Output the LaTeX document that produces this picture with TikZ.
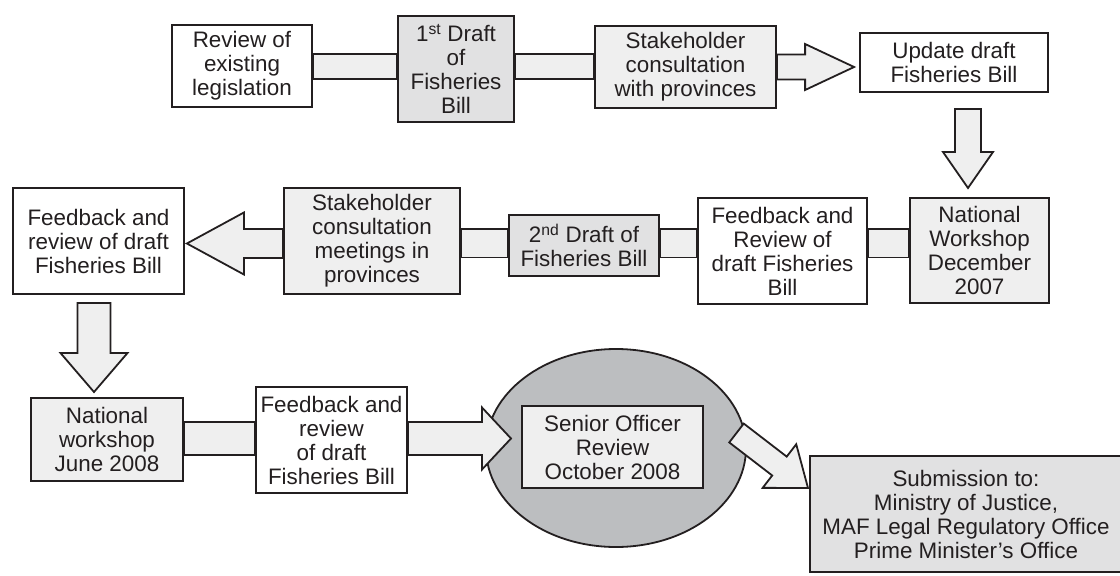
\documentclass[tikz,border=0pt]{standalone}
\usepackage{fontspec}
\setmainfont{Liberation Sans}
\usetikzlibrary{calc,shapes.geometric}

\definecolor{ink}{HTML}{231F20}
\definecolor{pale}{HTML}{EFEFEF}
\definecolor{mid}{HTML}{E1E1E2}
\definecolor{oval}{HTML}{BCBEC0}
\definecolor{shade}{HTML}{959595}

% fat block arrow: start, tip, shaft half-width, head half-width, head length
\newcommand\fatarrow[5]{%
  \coordinate (fa-b) at ($(#2)!#5!(#1)$);
  \filldraw[blockarrow] ($(#1)!#3!90:(#2)$) -- ($(fa-b)!#3!90:(#2)$)
    -- ($(fa-b)!#4!90:(#2)$) -- (#2) -- ($(fa-b)!#4!-90:(#2)$)
    -- ($(fa-b)!#3!-90:(#2)$) -- ($(#1)!#3!-90:(#2)$) -- cycle;}

\begin{document}
\begin{tikzpicture}[x=1pt,y=-1pt,
  line width=1.8pt, line join=miter,
  every node/.style={font=\fontsize{22.4}{24}\selectfont, text=ink},
  stepbox/.style={draw=ink, rectangle, align=center, inner sep=1pt},
  whitebox/.style={stepbox, fill=white},
  palebox/.style={stepbox, fill=pale},
  midbox/.style={stepbox, fill=mid},
  band/.style={draw=ink, fill=pale},
  blockarrow/.style={draw=ink, fill=pale}]
\useasboundingbox (0,0) rectangle (1120,576);

% row levels of the connecting bands
\coordinate (r1t) at (0,54);    \coordinate (r1b) at (0,79);   \coordinate (r1m) at (0,67);
\coordinate (r2t) at (0,229);   \coordinate (r2b) at (0,257.5); \coordinate (r2m) at (0,243.5);
\coordinate (r3t) at (0,422);   \coordinate (r3b) at (0,455);  \coordinate (r3m) at (0,438.5);

% first row
\node[whitebox, minimum width=140, minimum height=82]  (review) at (242,66)    {Review of\\existing\\legislation};
\node[midbox,   minimum width=116, minimum height=106] (draft1) at (456,69)    {1\textsuperscript{st} Draft\\of\\Fisheries\\Bill};
\node[palebox,  minimum width=181, minimum height=82]  (stake1) at (685.5,67)  {Stakeholder\\consultation\\with provinces};
\node[whitebox, minimum width=188, minimum height=59]  (update) at (954,62.5)  {Update draft\\Fisheries Bill};

% second row
\node[whitebox, minimum width=171, minimum height=106] (fb1)    at (98.5,241)  {Feedback and\\review of draft\\Fisheries Bill};
\node[palebox,  minimum width=176, minimum height=106] (stake2) at (372,241)   {Stakeholder\\consultation\\meetings in\\provinces};
\node[midbox,   minimum width=150, minimum height=61]  (draft2) at (584,245.5) {2\textsuperscript{nd} Draft of\\Fisheries Bill};
\node[whitebox, minimum width=169, minimum height=106] (fb2)    at (782.5,251) {Feedback and\\Review of\\draft Fisheries\\Bill};
\node[palebox,  minimum width=139, minimum height=105] (nat1)   at (979.5,250.5) {National\\Workshop\\December\\2007};

% third row
\node[palebox,  minimum width=152, minimum height=83]  (nat2)   at (107,439.5) {National\\workshop\\June 2008};
\node[whitebox, minimum width=151, minimum height=106] (fb3)    at (331.5,440) {Feedback and\\review\\of draft\\Fisheries Bill};
\node[draw=ink, fill=oval, ellipse, minimum width=260, minimum height=198, inner sep=0pt] (oval) at (616,448) {};

% submission box with its shadow
\fill[shade] (814,460) rectangle (1130,576);
\node[midbox, minimum width=312, minimum height=116] (sub) at (966,514)
  {Submission to:\\Ministry of Justice,\\MAF Legal Regulatory Office\\Prime Minister’s Office};

% bands between boxes
\draw[band] (review.east |- r1t) rectangle (draft1.west |- r1b);
\draw[band] (draft1.east |- r1t) rectangle (stake1.west |- r1b);
\draw[band] (nat1.west |- r2t) rectangle (fb2.east |- r2b);
\draw[band] (fb2.west |- r2t) rectangle (draft2.east |- r2b);
\draw[band] (draft2.west |- r2t) rectangle (stake2.east |- r2b);
\draw[band] (nat2.east |- r3t) rectangle (fb3.west |- r3b);

% block arrows
\coordinate (a1s) at (stake1.east |- r1m);
\coordinate (a1t) at ($(update.west |- r1m)+(-5,0)$);
\fatarrow{a1s}{a1t}{12.5pt}{23pt}{49pt}

\coordinate (d1s) at (968,109);
\coordinate (d1t) at (968,188);
\fatarrow{d1s}{d1t}{13pt}{25pt}{36pt}

\coordinate (a2s) at (stake2.west |- r2m);
\coordinate (a2t) at ($(fb1.east |- r2m)+(2,0)$);
\fatarrow{a2s}{a2t}{14.5pt}{31pt}{57pt}

\coordinate (d2s) at (94,303);
\coordinate (d2t) at (94,392);
\fatarrow{d2s}{d2t}{16.5pt}{33.5pt}{39pt}

\coordinate (a3s) at (fb3.east |- r3m);
\coordinate (a3t) at (511,438.5);
\fatarrow{a3s}{a3t}{16.5pt}{31pt}{29pt}

% review box inside the oval
\node[palebox, minimum width=181, minimum height=82] (senior) at (612.5,447) {Senior Officer\\Review\\October 2008};

\coordinate (d3s) at (736.5,433);
\coordinate (d3t) at (808,488);
\fatarrow{d3s}{d3t}{11.9pt}{27.5pt}{36pt}
\end{tikzpicture}
\end{document}
